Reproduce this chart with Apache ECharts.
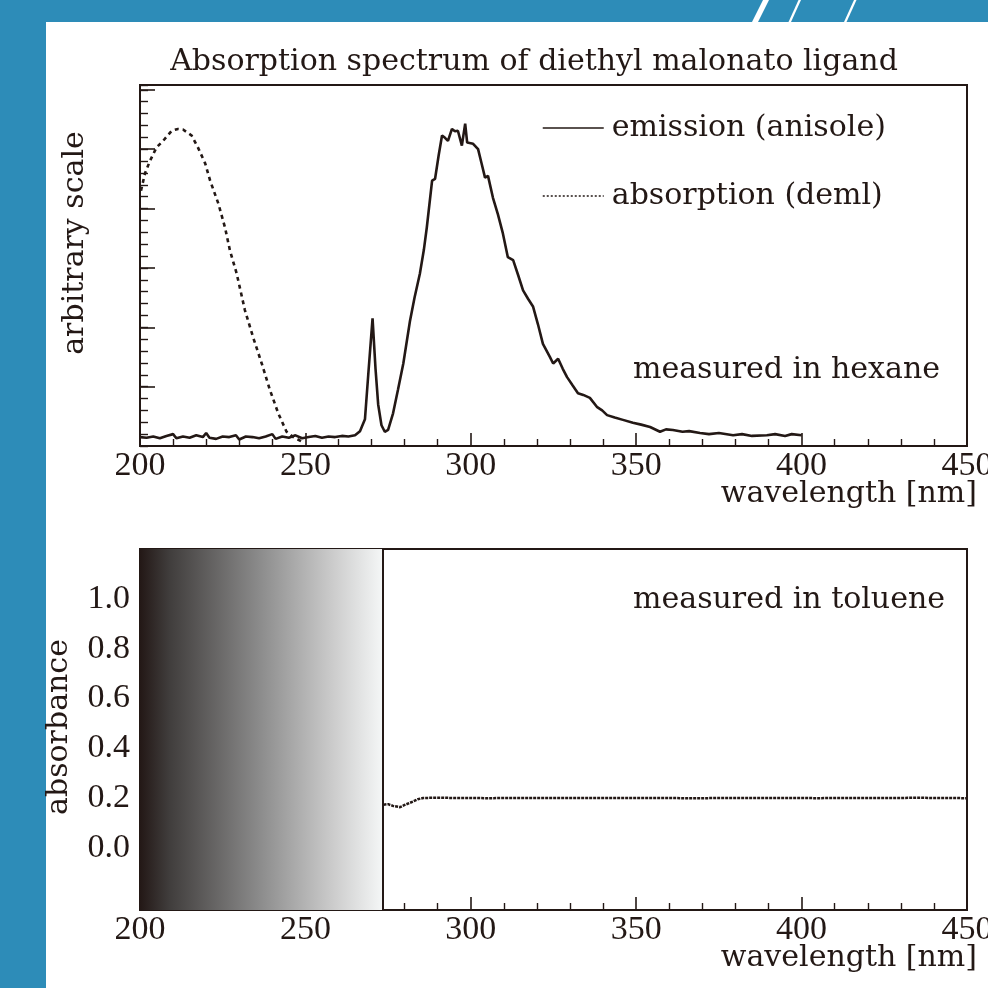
<!DOCTYPE html>
<html>
<head>
<meta charset="utf-8">
<script src="https://cdn.jsdelivr.net/npm/echarts@6/dist/echarts.min.js"></script>
<style>
  html, body { margin: 0; padding: 0; background: #2d8cb8; }
  #chart { width: 988px; height: 988px; }
</style>
</head>
<body>
<div id="chart"></div>
<script>
// ---- data ----
const emissionNm = [200,202,204,206,208,210,211,213,215,217,219,220,221,223,225,227,229,230,232,234,236,238,240,241,243,245,247,249,251,253,255,257,259,261,263,265,266.5,268,269,270.3,271.2,272,273,274,275,276.5,278,279.6,281.6,283,284.6,285.8,286.7,288.3,289.2,290.3,291.3,292.2,293.1,294.3,295.2,296.1,297.3,298.3,298.9,300.7,302.2,303.3,304.3,305.2,306.7,308.2,309.7,311.2,312.8,314.3,315.8,317.3,318.8,320.3,321.8,323.9,324.9,326.4,327.8,329.1,330.8,332.4,334,336,338.1,339.7,341.2,343.5,346,349,351.5,354.2,357.2,359,361.1,364,366,369.3,372,375,379.3,382,385,389.5,392,395,397,400];
const emissionVal = [0.15,0.14,0.16,0.13,0.17,0.2,0.13,0.16,0.14,0.18,0.15,0.22,0.14,0.12,0.16,0.15,0.18,0.11,0.16,0.15,0.13,0.16,0.2,0.12,0.16,0.14,0.18,0.13,0.15,0.17,0.14,0.16,0.15,0.17,0.16,0.18,0.25,0.45,1.2,2.15,1.3,0.7,0.35,0.24,0.27,0.55,0.95,1.39,2.1,2.5,2.9,3.3,3.68,4.47,4.5,4.9,5.23,5.19,5.14,5.34,5.3,5.31,5.06,5.43,5.11,5.09,5.0,4.75,4.52,4.55,4.18,3.9,3.58,3.18,3.13,2.88,2.62,2.48,2.35,2.05,1.72,1.5,1.39,1.47,1.3,1.16,1.02,0.89,0.86,0.81,0.66,0.6,0.52,0.48,0.44,0.39,0.36,0.32,0.24,0.28,0.27,0.24,0.25,0.22,0.2,0.22,0.18,0.2,0.17,0.18,0.2,0.17,0.2,0.18];

const absorptionNm = [200.3,201.5,203,205,207,209.6,211.5,213,215.6,217.5,219.7,221.2,223.7,225.7,227.2,229.2,231.7,234.2,236.8,239.3,241.8,244.3,246.3,248.8];
const absorptionVal = [4.3,4.59,4.8,5.03,5.14,5.31,5.34,5.33,5.23,5.03,4.76,4.47,4.08,3.68,3.29,2.91,2.29,1.83,1.39,0.94,0.55,0.24,0.15,0.08];

const tolueneNm = [273.6,275,276.5,278.6,280,282.6,284,285.6,290,295,300,305,310,315,320,325,330,335,340,345,350,355,360,365,370,375,380,385,390,395,400,405,410,415,420,425,430,435,440,445,450];
const tolueneVal = [0.173,0.175,0.168,0.163,0.172,0.186,0.195,0.2,0.201,0.2,0.2,0.199,0.2,0.2,0.2,0.2,0.2,0.2,0.2,0.2,0.2,0.2,0.2,0.199,0.199,0.2,0.2,0.2,0.2,0.2,0.2,0.199,0.2,0.2,0.2,0.2,0.2,0.201,0.2,0.2,0.199];

const xTickStep = 50;
const absorbanceLabels = [0, 0.2, 0.4, 0.6, 0.8, 1.0];
const cutoffNm = 273.5;

const titleText = 'Absorption spectrum of diethyl malonato ligand';
const seriesNames = ['emission (anisole)', 'absorption (deml)'];
const noteTop = 'measured in hexane';
const noteBottom = 'measured in toluene';
const xName = 'wavelength [nm]';
const yNameTop = 'arbitrary scale';
const yNameBottom = 'absorbance';

// ---- styling ----
const INK = '#231815';
const NUMFONT = 'Liberation Serif';
const TXTFONT = 'DejaVu Serif';
const NFS = 34;
const TFS = 30;
const zip = (a, b) => a.map((v, i) => [v, b[i]]);

const chart = echarts.init(document.getElementById('chart'), null, { renderer: 'canvas' });

const xAxisBase = (gridIndex) => ({
  type: 'value', gridIndex, min: 200, max: 450, interval: xTickStep,
  axisLine: { show: true, onZero: false, lineStyle: { color: INK, width: 2 } },
  axisTick: { show: true, inside: true, length: 13, lineStyle: { color: INK, width: 1.6 } },
  minorTick: { show: true, splitNumber: 5, length: 7, lineStyle: { color: INK, width: 1.4 } },
  splitLine: { show: false },
  axisLabel: { color: INK, fontFamily: NUMFONT, fontSize: NFS, margin: 3 }
});

const textEl = (text, x, y, align, rot) => ({
  type: 'text', x, y, rotation: rot || 0, z: 100,
  style: { text, fill: INK, font: TFS + 'px "' + TXTFONT + '"', align, verticalAlign: 'middle' }
});

const option = {
  backgroundColor: '#2d8cb8',
  animation: false,
  graphic: [
    { type: 'rect', z: -100, shape: { x: 46, y: 22, width: 942, height: 966 }, style: { fill: '#ffffff' } },
    { type: 'polygon', z: -100, shape: { points: [[763,0],[769,0],[758,22],[752,22]] }, style: { fill: '#ffffff' } },
    { type: 'polygon', z: -100, shape: { points: [[798.5,0],[801,0],[791,22],[788.5,22]] }, style: { fill: '#ffffff' } },
    { type: 'polygon', z: -100, shape: { points: [[854,0],[856.5,0],[846.5,22],[844,22]] }, style: { fill: '#ffffff' } },
    textEl(titleText, 534, 62, 'center'),
    textEl(noteTop, 940, 370, 'right'),
    textEl(noteBottom, 945, 600, 'right'),
    textEl(xName, 977, 494, 'right'),
    textEl(xName, 977, 958, 'right'),
    textEl(yNameTop, 75, 243, 'center', Math.PI / 2),
    textEl(yNameBottom, 59, 727, 'center', Math.PI / 2)
  ],
  grid: [
    { left: 140, top: 85, width: 827, height: 361, show: true, borderColor: INK, borderWidth: 2,
      backgroundColor: 'transparent', outerBoundsMode: 'none', containLabel: false },
    { left: 140, top: 549, width: 827, height: 361, show: true, borderColor: INK, borderWidth: 2,
      backgroundColor: 'transparent', outerBoundsMode: 'none', containLabel: false }
  ],
  legend: {
    orient: 'vertical', left: 537, top: 103,
    itemWidth: 61, itemHeight: 14, itemGap: 28,
    textStyle: { color: INK, fontFamily: TXTFONT, fontSize: TFS, lineHeight: 40, padding: [0, 0, 0, 3] },
    data: [
      { name: seriesNames[0], lineStyle: { color: INK, width: 1.5, type: 'solid' },
        itemStyle: { color: 'rgba(0,0,0,0)', borderWidth: 0 } },
      { name: seriesNames[1], lineStyle: { color: INK, width: 1.5, type: [2, 2] },
        itemStyle: { color: 'rgba(0,0,0,0)', borderWidth: 0 } }
    ]
  },
  xAxis: [ xAxisBase(0), xAxisBase(1) ],
  yAxis: [
    { type: 'value', gridIndex: 0, position: 'left', min: 0, max: 6.08, interval: 1,
      axisLine: { show: true, lineStyle: { color: INK, width: 2 } },
      axisTick: { show: true, inside: true, length: 15, lineStyle: { color: INK, width: 1.6 } },
      axisLabel: { show: false }, splitLine: { show: false } },
    { type: 'value', gridIndex: 0, position: 'left', offset: 0, min: 0, max: 6.08, interval: 0.2,
      axisLine: { show: false },
      axisTick: { show: true, inside: true, length: 8, lineStyle: { color: INK, width: 1.4 } },
      axisLabel: { show: false }, splitLine: { show: false } },
    { type: 'value', gridIndex: 1, position: 'left', min: -0.25, max: 1.2,
      axisLine: { show: false }, axisTick: { show: false }, splitLine: { show: false },
      axisLabel: { color: INK, fontFamily: NUMFONT, fontSize: NFS, margin: 10,
        customValues: absorbanceLabels, formatter: (v) => v.toFixed(1) } }
  ],
  series: [
    { name: seriesNames[0], type: 'line', xAxisIndex: 0, yAxisIndex: 0, symbol: 'none',
      data: zip(emissionNm, emissionVal), lineStyle: { color: INK, width: 2.6 }, itemStyle: { color: INK } },
    { name: seriesNames[1], type: 'line', xAxisIndex: 0, yAxisIndex: 0, symbol: 'none',
      data: zip(absorptionNm, absorptionVal), lineStyle: { color: INK, width: 2.6, type: [4, 4] }, itemStyle: { color: INK } },
    { name: 'toluene', type: 'line', xAxisIndex: 1, yAxisIndex: 2, symbol: 'none',
      data: zip(tolueneNm, tolueneVal), lineStyle: { color: INK, width: 2.5, type: [3, 1] }, itemStyle: { color: INK },
      markArea: { silent: true,
        itemStyle: { color: { type: 'linear', x: 0, y: 0, x2: 1, y2: 0, colorStops: [
          { offset: 0, color: '#231816' }, { offset: 0.12, color: '#403d3c' }, { offset: 0.5, color: '#8d8d8d' },
          { offset: 0.8, color: '#cdcdcd' }, { offset: 1, color: '#f5f7f7' } ] } },
        data: [[ { xAxis: 200, yAxis: -0.25 }, { xAxis: cutoffNm, yAxis: 1.2 } ]] },
      markLine: { silent: true, symbol: 'none', label: { show: false },
        lineStyle: { color: INK, width: 2, type: 'solid' }, data: [ { xAxis: cutoffNm } ] }
    }
  ]
};
chart.setOption(option);
</script>
</body>
</html>
